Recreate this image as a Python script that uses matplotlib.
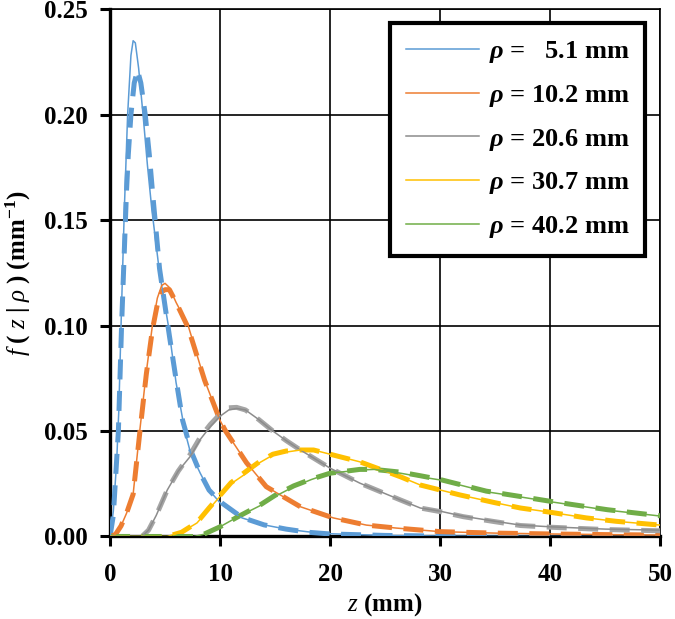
import matplotlib
matplotlib.use("Agg")
import matplotlib.pyplot as plt

z_b = [0, 0.3, 0.6, 0.8, 1.0, 1.3, 1.6, 1.9, 2.1, 2.3, 2.6, 3.0, 3.4, 3.8, 4.5, 5.3, 6.0, 6.8,
       7.3, 8.2, 9.0, 10, 11, 12, 14, 16, 18, 20, 25, 30, 40, 50]
f_b = [0.0, 0.012, 0.035, 0.06, 0.10, 0.155, 0.20, 0.228, 0.235, 0.234, 0.222, 0.200, 0.176,
       0.155, 0.125, 0.100, 0.073, 0.050, 0.040, 0.030, 0.022, 0.016, 0.012, 0.0088, 0.0055,
       0.0035, 0.0022, 0.0013, 0.0005, 0.0002, 0.0, 0.0]
zd_b = [0, 0.3, 0.76, 1.05, 1.5, 1.66, 1.9, 2.2, 2.5, 2.8, 3.2, 3.57, 3.85, 4.5, 5.4, 6.0, 6.6,
        7.4, 8.2, 9.0, 10, 12, 14, 16, 18, 20, 25, 30, 40, 50]
fd_b = [0.0, 0.01, 0.05, 0.10, 0.164, 0.181, 0.200, 0.215, 0.221, 0.215, 0.200, 0.181, 0.164,
        0.127, 0.095, 0.0745, 0.055, 0.040, 0.030, 0.022, 0.0165, 0.009, 0.0055, 0.0035,
        0.002, 0.0012, 0.0005, 0.0002, 0.0, 0.0]

z_o = [0, 0.5, 1.0, 1.5, 2.1, 2.7, 3.3, 3.85, 4.3, 4.7, 5.0, 5.4, 6.0, 7.1, 8.6, 10, 10.5, 12.4,
       14.2, 17.3, 20.3, 23.3, 26, 30, 35, 40, 45, 50]
f_o = [0.0, 0.001, 0.005, 0.011, 0.020, 0.050, 0.078, 0.100, 0.113, 0.119, 0.120, 0.118, 0.111,
       0.100, 0.074, 0.055, 0.050, 0.035, 0.0236, 0.0141, 0.0088, 0.0054, 0.004, 0.0023,
       0.0016, 0.0012, 0.0009, 0.0007]
fd_o = [0.0, 0.001, 0.005, 0.011, 0.020, 0.049, 0.077, 0.098, 0.110, 0.116, 0.117, 0.117, 0.111,
        0.099, 0.074, 0.055, 0.050, 0.035, 0.0236, 0.0141, 0.0088, 0.0054, 0.004, 0.0023,
        0.0016, 0.0012, 0.0009, 0.0007]

z_g = [0, 2.9, 3.5, 4.2, 5.2, 6.2, 7.3, 8.2, 9.1, 10, 10.8, 11.5, 12.3, 13.5, 14.8, 16, 17.3, 20,
       22.7, 26.4, 28.2, 30, 32.1, 35, 37.3, 40, 45, 50]
f_g = [0.0, 0.0, 0.003, 0.010, 0.022, 0.031, 0.038, 0.046, 0.052, 0.057, 0.060, 0.0607, 0.060,
       0.0555, 0.050, 0.0455, 0.041, 0.0324, 0.0253, 0.0173, 0.0135, 0.012, 0.0096, 0.0072,
       0.0054, 0.0046, 0.0035, 0.003]
fd_g = [0.0, 0.0, 0.003, 0.010, 0.022, 0.031, 0.039, 0.047, 0.053, 0.058, 0.061, 0.0612, 0.060,
        0.0555, 0.050, 0.0455, 0.041, 0.0324, 0.0253, 0.0173, 0.0135, 0.0118, 0.0094, 0.007,
        0.0052, 0.0044, 0.0033, 0.0027]

z_y = [0, 5.2, 6.5, 7.9, 9, 10, 11, 12.4, 13.6, 14.8, 16, 17.3, 18.5, 20.3, 22.7, 26.4, 28.2,
       31.8, 35, 37.3, 40, 43.3, 46, 50]
f_y = [0.0, 0.0, 0.002, 0.0064, 0.013, 0.019, 0.025, 0.030, 0.035, 0.0386, 0.040, 0.041, 0.041,
       0.0386, 0.0354, 0.0283, 0.0244, 0.0197, 0.016, 0.0135, 0.0115, 0.0088, 0.0072, 0.0054]
fd_y = [0.0, 0.0, 0.002, 0.0066, 0.0135, 0.0195, 0.0255, 0.031, 0.0355, 0.039, 0.0405, 0.041,
        0.041, 0.0386, 0.0354, 0.0283, 0.0244, 0.0197, 0.016, 0.0135, 0.0115, 0.0088, 0.0072, 0.0054]

z_gr = [0, 7.6, 8.5, 10, 11.5, 13.6, 15, 16.7, 18.3, 20, 22.7, 24, 26.4, 28.2, 30, 34.2, 37, 40,
        45.2, 50]
f_gr = [0.0, 0.0, 0.001, 0.0046, 0.009, 0.0145, 0.019, 0.0236, 0.027, 0.030, 0.0315, 0.0318,
        0.030, 0.0283, 0.0268, 0.0212, 0.019, 0.0165, 0.0125, 0.0097]
fd_gr = [0.0, 0.0, 0.001, 0.0046, 0.009, 0.0148, 0.0195, 0.024, 0.0272, 0.030, 0.0318, 0.0318,
         0.0305, 0.0288, 0.027, 0.0215, 0.0192, 0.0167, 0.0127, 0.0098]

labels = [r"$\mathbfit{\rho}$ =   5.1 mm", r"$\mathbfit{\rho}$ = 10.2 mm",
          r"$\mathbfit{\rho}$ = 20.6 mm", r"$\mathbfit{\rho}$ = 30.7 mm",
          r"$\mathbfit{\rho}$ = 40.2 mm"]
solid_colors = ["#5B9BD5", "#ED7D31", "#8C8C8C", "#FFC000", "#70AD47"]
dash_colors = ["#5B9BD5", "#ED7D31", "#A5A5A5", "#FFC000", "#70AD47"]

plt.rcParams["font.family"] = ["Liberation Serif", "DejaVu Serif"]
plt.rcParams["font.weight"] = "bold"
plt.rcParams["mathtext.fontset"] = "custom"
plt.rcParams["mathtext.rm"] = "Liberation Serif:bold"
plt.rcParams["mathtext.bf"] = "Liberation Serif:bold"
plt.rcParams["mathtext.it"] = "Liberation Serif:italic:normal"
plt.rcParams["mathtext.bfit"] = "Liberation Serif:italic:bold"

fig = plt.figure(figsize=(6.75, 6.19), dpi=100)
ax = fig.add_axes([0.163, 0.1333, 0.815, 0.852])

series = [(z_b, f_b, zd_b, fd_b), (z_o, f_o, z_o, fd_o), (z_g, f_g, z_g, fd_g),
          (z_y, f_y, z_y, fd_y), (z_gr, f_gr, z_gr, fd_gr)]
handles = []
for (zs, fs, zd, fd), cs, cd, lab in zip(series, solid_colors, dash_colors, labels):
    ax.plot(zd, fd, color=cd, lw=3.6, dashes=(4, 2.3), solid_capstyle="butt", zorder=3)
    h, = ax.plot(zs, fs, color=cs, lw=1.1, zorder=4, label=lab)
    handles.append(h)

ax.set_xlim(0, 50)
ax.set_ylim(0, 0.25)
ax.set_xticks([0, 10, 20, 30, 40, 50])
ax.set_yticks([0, 0.05, 0.10, 0.15, 0.20, 0.25])
ax.set_yticklabels(["0.00", "0.05", "0.10", "0.15", "0.20", "0.25"])
ax.grid(True, color="black", lw=1.2, zorder=1)
ax.set_axisbelow(True)
for s in ["left", "bottom"]:
    ax.spines[s].set_linewidth(2.4)
for s in ["top", "right"]:
    ax.spines[s].set_linewidth(1.2)
ax.tick_params(direction="out", length=7, width=2.2, labelsize=18, pad=9)
ax.tick_params(axis="x", pad=12)

ax.set_xlabel(r"$z$ (mm)", fontsize=18, fontweight="bold", labelpad=4)
ax.set_ylabel(r"$f\ (\ z\ |\ \rho\ )\ (\mathrm{mm}^{\mathrm{-1}})$", fontsize=18, labelpad=8)

leg = ax.legend(handles=handles, loc="upper right", bbox_to_anchor=(0.973, 0.973),
                borderaxespad=0, fancybox=False, framealpha=1, edgecolor="black",
                prop={"size": 19, "weight": "bold"}, handlelength=2.8, labelspacing=0.67,
                borderpad=0.6, handletextpad=0.35)
leg.get_frame().set_linewidth(3)
leg.set_zorder(10)

plt.savefig("out.png", dpi=100)
